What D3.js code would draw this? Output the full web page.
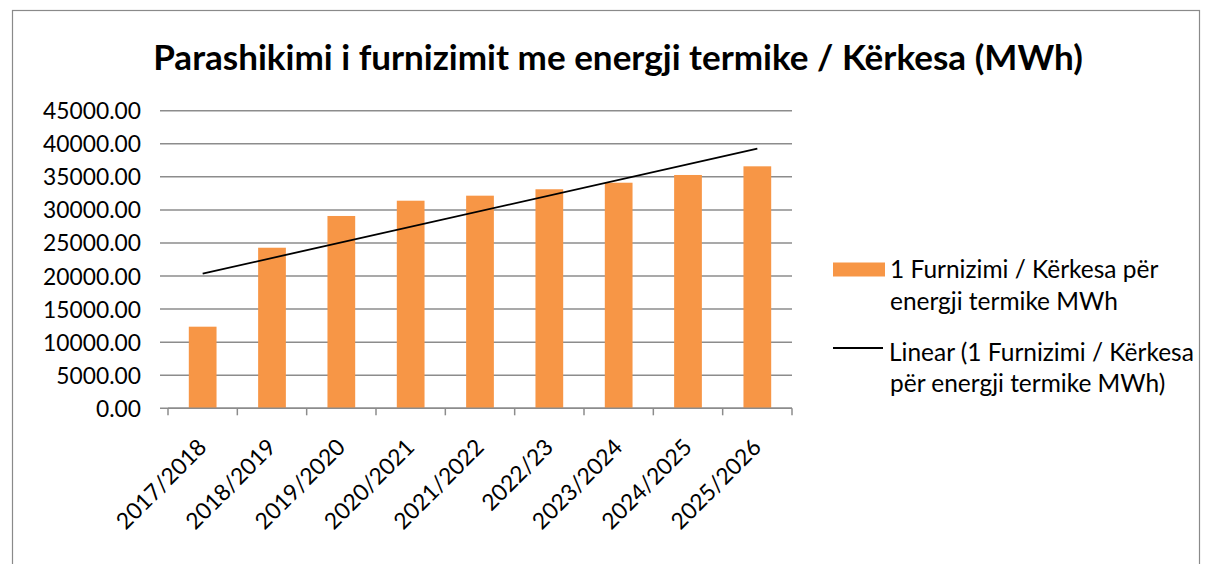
<!DOCTYPE html>
<html><head><meta charset="utf-8">
<script src="https://cdn.jsdelivr.net/npm/d3@7"></script>
<style>body{margin:0;background:#fff}svg{display:block}text{font-family:Lato,"Open Sans",sans-serif;fill:#000}</style>
</head><body><svg id="c" width="1205" height="564"></svg>
<script>
const categories = ["2017/2018","2018/2019","2019/2020","2020/2021","2021/2022","2022/23","2023/2024","2024/2025","2025/2026"];
const supply = [12340, 24280, 29080, 31390, 32150, 33120, 34110, 35280, 36590];
const yTicks = [0,5000,10000,15000,20000,25000,30000,35000,40000,45000];
const title = "Parashikimi i furnizimit me energji termike / Kërkesa (MWh)";
const seriesName = ["1 Furnizimi / Kërkesa për", "energji termike MWh"];
const trendName = ["Linear (1 Furnizimi / Kërkesa", "për energji termike MWh)"];

const svg = d3.select("#c");
const pL = 168, pR = 792, pT = 110.7, pB = 408.3;
const x = d3.scaleBand().domain(categories).range([pL, pR]).paddingInner(0.6).paddingOuter(0.3);
const y = d3.scaleLinear().domain([0, 45000]).range([pB, pT]);

// helper: font size so that a string has a given width
function fitSize(str, width, weight) {
  const tmp = svg.append("text").style("font-size","20px").style("font-weight",weight||"normal").text(str);
  const w = tmp.node().getComputedTextLength(); tmp.remove();
  return 20*width/w;
}
const tickFs = fitSize("45000.00", 98);
const legFs = fitSize(trendName[0], 305);

// border
svg.append("rect").attr("x",12.5).attr("y",10.5).attr("width",1187).attr("height",600)
  .attr("fill","none").attr("stroke","#8a8a8a").attr("stroke-width",1.2);

// title
svg.append("text").attr("x",618).attr("y",70).attr("text-anchor","middle")
  .style("font-weight","bold").style("font-size", fitSize(title, 930, "bold")+"px").text(title);

// gridlines
svg.append("g").selectAll("line").data(yTicks).join("line")
  .attr("x1",pL-8).attr("x2",pR).attr("y1",d=>y(d)).attr("y2",d=>y(d))
  .attr("stroke","#8c8c8c").attr("stroke-width",1.5);

// y axis
const ya = svg.append("g").attr("transform",`translate(${pL},0)`)
  .call(d3.axisLeft(y).tickValues(yTicks).tickFormat(d3.format(".2f")).tickSize(0).tickPadding(27));
ya.select(".domain").remove();
ya.selectAll("text").style("font-size",tickFs+"px").style("font-family","Lato").attr("fill","#000").attr("dy","0.35em");

// bars
svg.append("g").selectAll("rect").data(supply).join("rect")
  .attr("x",(d,i)=>x(categories[i])).attr("width",x.bandwidth())
  .attr("y",d=>y(d)).attr("height",d=>y(0)-y(d)).attr("fill","#F79646");

// x axis
const xa = svg.append("g").attr("transform",`translate(0,${pB})`);
xa.append("line").attr("x1",pL).attr("x2",pR).attr("stroke","#8c8c8c").attr("stroke-width",1.5);
const step = (pR-pL)/categories.length;
xa.selectAll("line.tk").data(d3.range(categories.length+1)).join("line").attr("class","tk")
  .attr("x1",i=>pL+i*step).attr("x2",i=>pL+i*step).attr("y1",0).attr("y2",7)
  .attr("stroke","#8c8c8c").attr("stroke-width",1.5);
xa.selectAll("text").data(categories).join("text")
  .attr("text-anchor","end").style("font-size",tickFs+"px")
  .attr("transform",d=>`translate(${x(d)+x.bandwidth()/2-6},${29}) rotate(-45)`)
  .attr("dy","0.7em").text(d=>d);

// linear trendline (least squares)
const xs = supply.map((d,i)=>i+1);
const mx = d3.mean(xs), my = d3.mean(supply);
const slope = d3.sum(xs.map((v,i)=>(v-mx)*(supply[i]-my)))/d3.sum(xs.map(v=>(v-mx)*(v-mx)));
const icpt = my - slope*mx;
const cx = i => x(categories[i]) + x.bandwidth()/2;
svg.append("line").attr("x1",cx(0)).attr("x2",cx(categories.length-1))
  .attr("y1",y(icpt+slope*1)).attr("y2",y(icpt+slope*categories.length))
  .attr("stroke","#000").attr("stroke-width",1.8);

// legend
const lg = svg.append("g");
lg.append("rect").attr("x",833).attr("y",262.5).attr("width",52).attr("height",14).attr("fill","#F79646");
lg.append("text").attr("x",890).attr("y",278).style("font-size",legFs+"px").text(seriesName[0]);
lg.append("text").attr("x",890).attr("y",310).style("font-size",legFs+"px").text(seriesName[1]);
lg.append("line").attr("x1",833).attr("x2",883).attr("y1",348).attr("y2",348).attr("stroke","#000").attr("stroke-width",1.8);
lg.append("text").attr("x",889).attr("y",361).style("font-size",legFs+"px").text(trendName[0]);
lg.append("text").attr("x",890).attr("y",392).style("font-size",legFs+"px").text(trendName[1]);
</script></body></html>
